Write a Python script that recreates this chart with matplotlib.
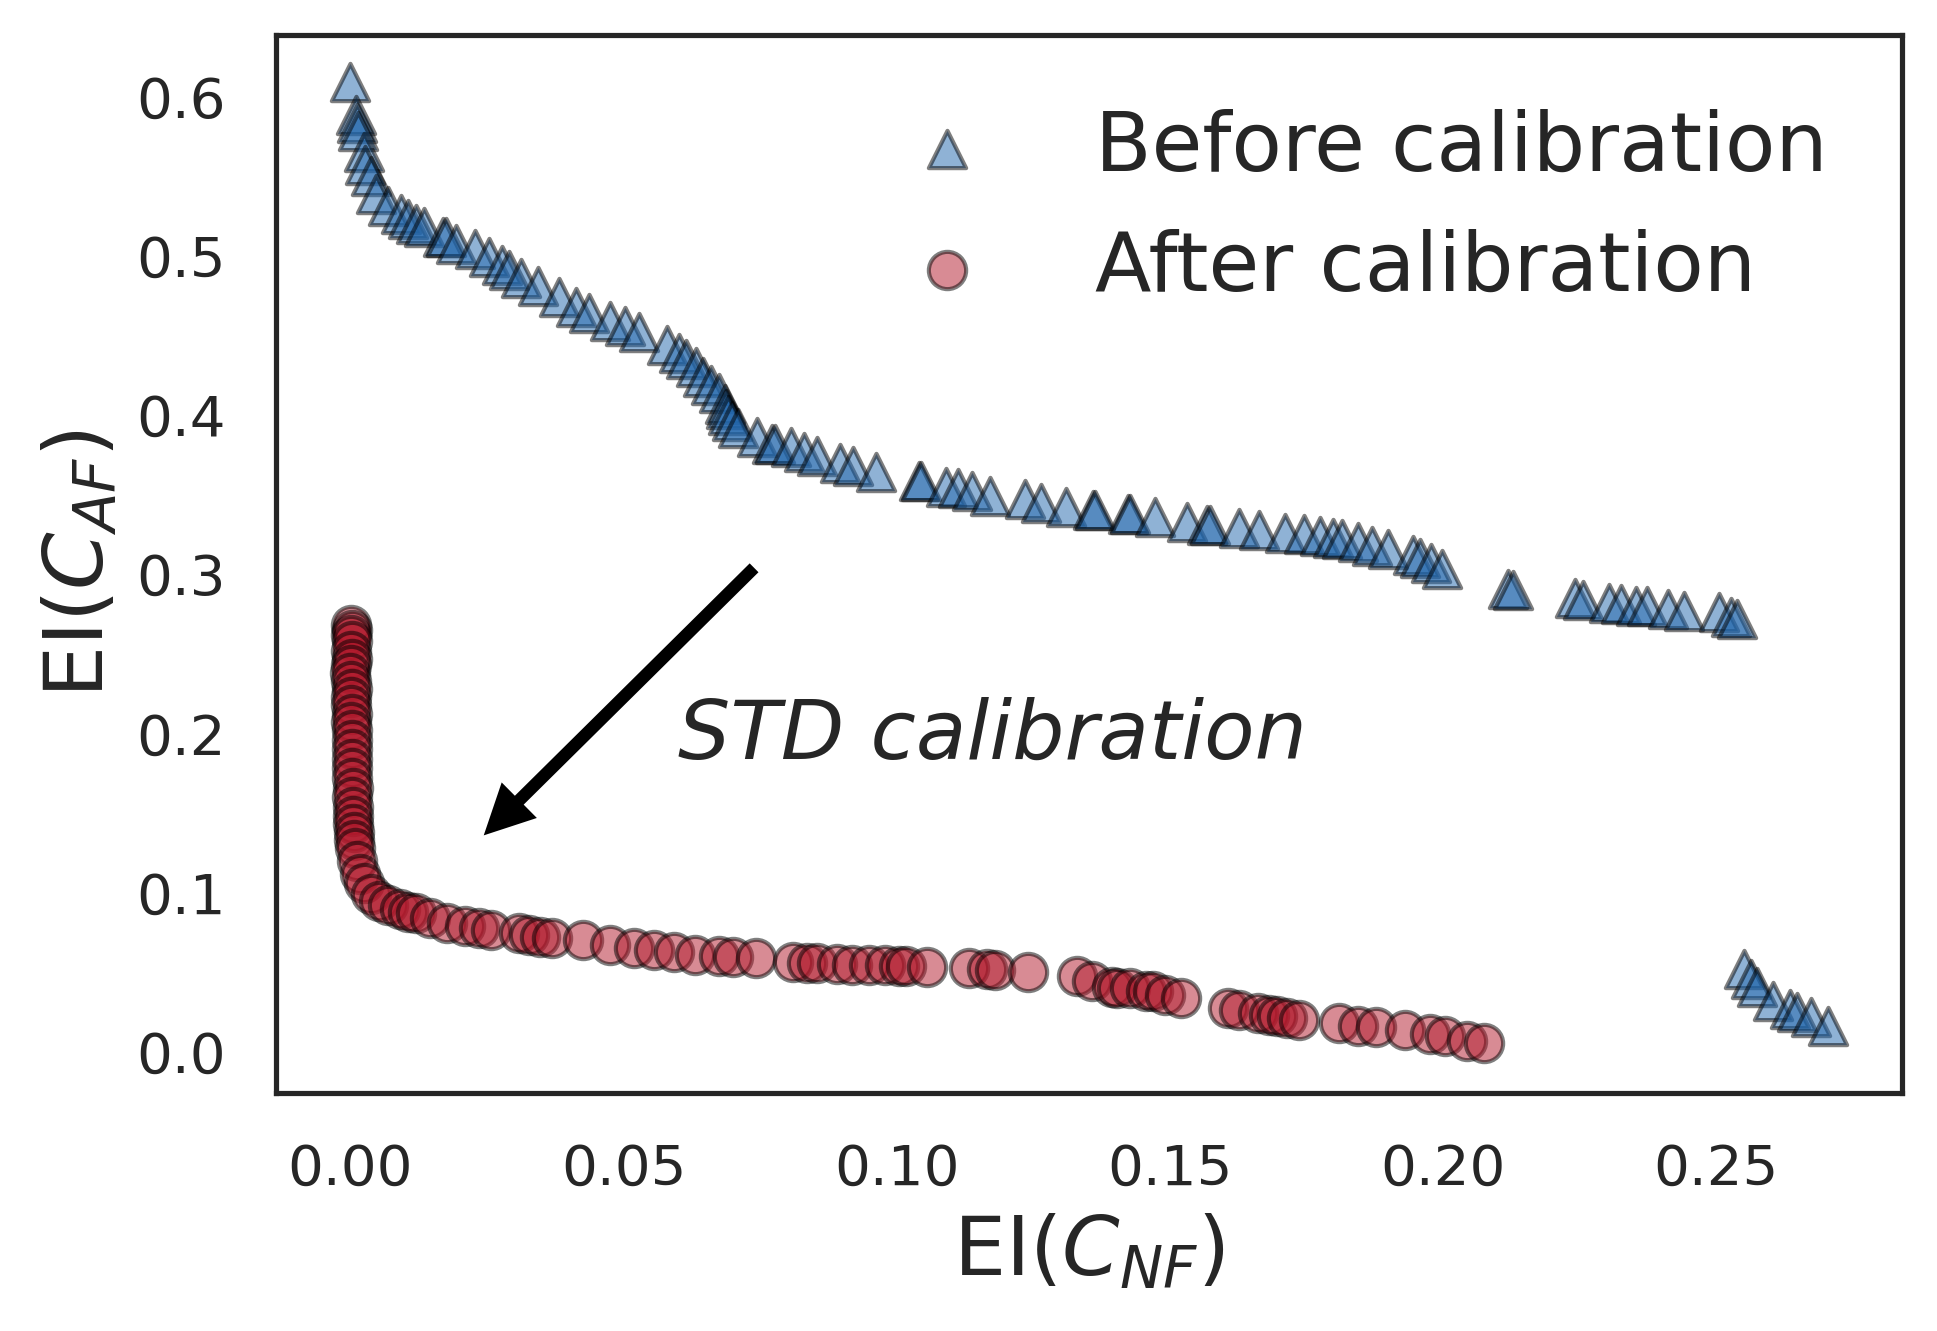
import matplotlib.pyplot as plt
import seaborn as sns

sns.set_style('white')
plt.rcParams['font.family'] = ['DejaVu Sans']

# EI values
before_x = [0.0000, 0.0010, 0.0012, 0.0014, 0.0025, 0.0027, 0.0037, 0.0047, 0.0068, 0.0092,
            0.0106, 0.0120, 0.0134, 0.0170, 0.0175, 0.0193, 0.0228, 0.0253, 0.0277, 0.0290,
            0.0312, 0.0343, 0.0381, 0.0413, 0.0437, 0.0476, 0.0503, 0.0528, 0.0580, 0.0601,
            0.0615, 0.0632, 0.0646, 0.0660, 0.0674, 0.0685, 0.0688, 0.0691, 0.0698, 0.0709,
            0.0744, 0.0772, 0.0778, 0.0807, 0.0831, 0.0855, 0.0897, 0.0921, 0.0963,
            0.1041, 0.1044, 0.1090, 0.1113, 0.1138, 0.1171, 0.1235, 0.1264, 0.1310, 0.1360,
            0.1364, 0.1424, 0.1428, 0.1473, 0.1531, 0.1569, 0.1573, 0.1627, 0.1664, 0.1711,
            0.1746, 0.1775, 0.1799, 0.1815, 0.1844, 0.1871, 0.1900, 0.1946, 0.1958, 0.1978,
            0.1999, 0.2120, 0.2128, 0.2242, 0.2256, 0.2305, 0.2326, 0.2353, 0.2373, 0.2413,
            0.2442, 0.2506, 0.2527, 0.2539,
            0.2552, 0.2565, 0.2575, 0.2605, 0.2635, 0.2648, 0.2675, 0.2705]
before_y = [0.609, 0.588, 0.583, 0.578, 0.565, 0.557, 0.550, 0.539, 0.531, 0.526,
            0.523, 0.520, 0.518, 0.512, 0.512, 0.507, 0.504, 0.499, 0.494, 0.491,
            0.486, 0.481, 0.474, 0.468, 0.464, 0.459, 0.456, 0.452, 0.444, 0.439,
            0.435, 0.430, 0.424, 0.419, 0.414, 0.407, 0.404, 0.400, 0.396, 0.392,
            0.386, 0.382, 0.382, 0.380, 0.377, 0.374, 0.370, 0.368, 0.364,
            0.3586, 0.3586, 0.355, 0.354, 0.352, 0.349, 0.347, 0.345, 0.342, 0.340,
            0.340, 0.338, 0.338, 0.336, 0.333, 0.331, 0.331, 0.329, 0.328, 0.326,
            0.325, 0.324, 0.323, 0.322, 0.320, 0.318, 0.316, 0.312, 0.310, 0.307,
            0.303, 0.291, 0.290, 0.285, 0.284, 0.282, 0.281, 0.280, 0.280, 0.278,
            0.277, 0.276, 0.273, 0.272,
            0.052, 0.046, 0.041, 0.032, 0.027, 0.025, 0.022, 0.016]

after_x = [0.0001, 0.0002, 0.0001, 0.0002, 0.0001, 0.0002, 0.0001, 0.0000, 0.0001, 0.0002,
           0.0001, 0.0001, 0.0002, 0.0001, 0.0002, 0.0002, 0.0003, 0.0002, 0.0003, 0.0003,
           0.0004, 0.0003, 0.0004, 0.0005, 0.0005, 0.0006, 0.0007, 0.0009,
           0.0012, 0.0017, 0.0025, 0.0038, 0.0053, 0.0068, 0.0090, 0.0105, 0.0120, 0.0146,
           0.0176, 0.0210, 0.0236, 0.0257, 0.0309, 0.0326, 0.0347, 0.0369, 0.0425, 0.0476,
           0.0519, 0.0556, 0.0592, 0.0630, 0.0674, 0.0700, 0.0742, 0.0811, 0.0835, 0.0854,
           0.0890, 0.0919, 0.0950, 0.0979, 0.1005, 0.1017, 0.1056, 0.1133, 0.1165, 0.1181,
           0.1241,
           0.1330, 0.1357, 0.1394, 0.1403, 0.1427, 0.1457, 0.1470, 0.1491, 0.1521, 0.1606,
           0.1627, 0.1661, 0.1682, 0.1697, 0.1715, 0.1736, 0.1810, 0.1845, 0.1878, 0.1930,
           0.1976, 0.2004, 0.2045, 0.2075]
after_y = [0.268, 0.265, 0.262, 0.258, 0.252, 0.247, 0.243, 0.238, 0.233, 0.228,
           0.223, 0.218, 0.212, 0.207, 0.202, 0.196, 0.190, 0.184, 0.178, 0.172,
           0.166, 0.160, 0.154, 0.148, 0.143, 0.138, 0.133, 0.128,
           0.120, 0.112, 0.106, 0.099, 0.095, 0.092, 0.090, 0.088, 0.087, 0.084,
           0.081, 0.079, 0.078, 0.0765, 0.0745, 0.0735, 0.0724, 0.0714, 0.0703, 0.0672,
           0.065, 0.064, 0.063, 0.061, 0.060, 0.0595, 0.0588, 0.0568, 0.056, 0.0557,
           0.055, 0.0547, 0.0547, 0.0547, 0.054, 0.054, 0.0536, 0.0526, 0.052, 0.0515,
           0.0505,
           0.0474, 0.0443, 0.0411, 0.0401, 0.0401, 0.0380, 0.0380, 0.0359, 0.0338, 0.0276,
           0.0265, 0.0244, 0.0234, 0.0224, 0.0213, 0.0203, 0.0182, 0.0161, 0.0155, 0.0135,
           0.0112, 0.0100, 0.0070, 0.0055]

fig, ax = plt.subplots(figsize=(1937 / 300, 1331 / 300), dpi=300)
fig.subplots_adjust(left=0.1423, right=0.982, top=0.9739, bottom=0.179)

ax.scatter(before_x, before_y, marker='^', s=80, c='#2166ac', edgecolors='k',
           linewidths=1, alpha=0.5, label='Before calibration')
ax.scatter(after_x, after_y, marker='o', s=80, c='#b2182b', edgecolors='k',
           linewidths=1, alpha=0.5, label='After calibration')

ax.annotate('', xy=(0.0244, 0.136), xytext=(0.0739, 0.304),
            arrowprops=dict(facecolor='black', edgecolor='black', width=3,
                            headwidth=12, headlength=12, lw=0))
ax.text(0.06, 0.184, 'STD calibration', fontsize=19.8, style='italic', color='.15')

ax.set_xlabel(r'EI($C_{NF}$)', fontsize=19.8)
ax.set_ylabel(r'EI($C_{AF}$)', fontsize=19.8)
ax.tick_params(labelsize=13.5, length=0, pad=12)
ax.set_xlim(-0.0137, 0.2841)
ax.set_ylim(-0.0256, 0.6387)
for sp in ax.spines.values():
    sp.set_linewidth(1.25)
    sp.set_color('.15')
ax.legend(fontsize=19.8, frameon=False, loc='upper right')

fig.savefig('out.png', dpi=300)
